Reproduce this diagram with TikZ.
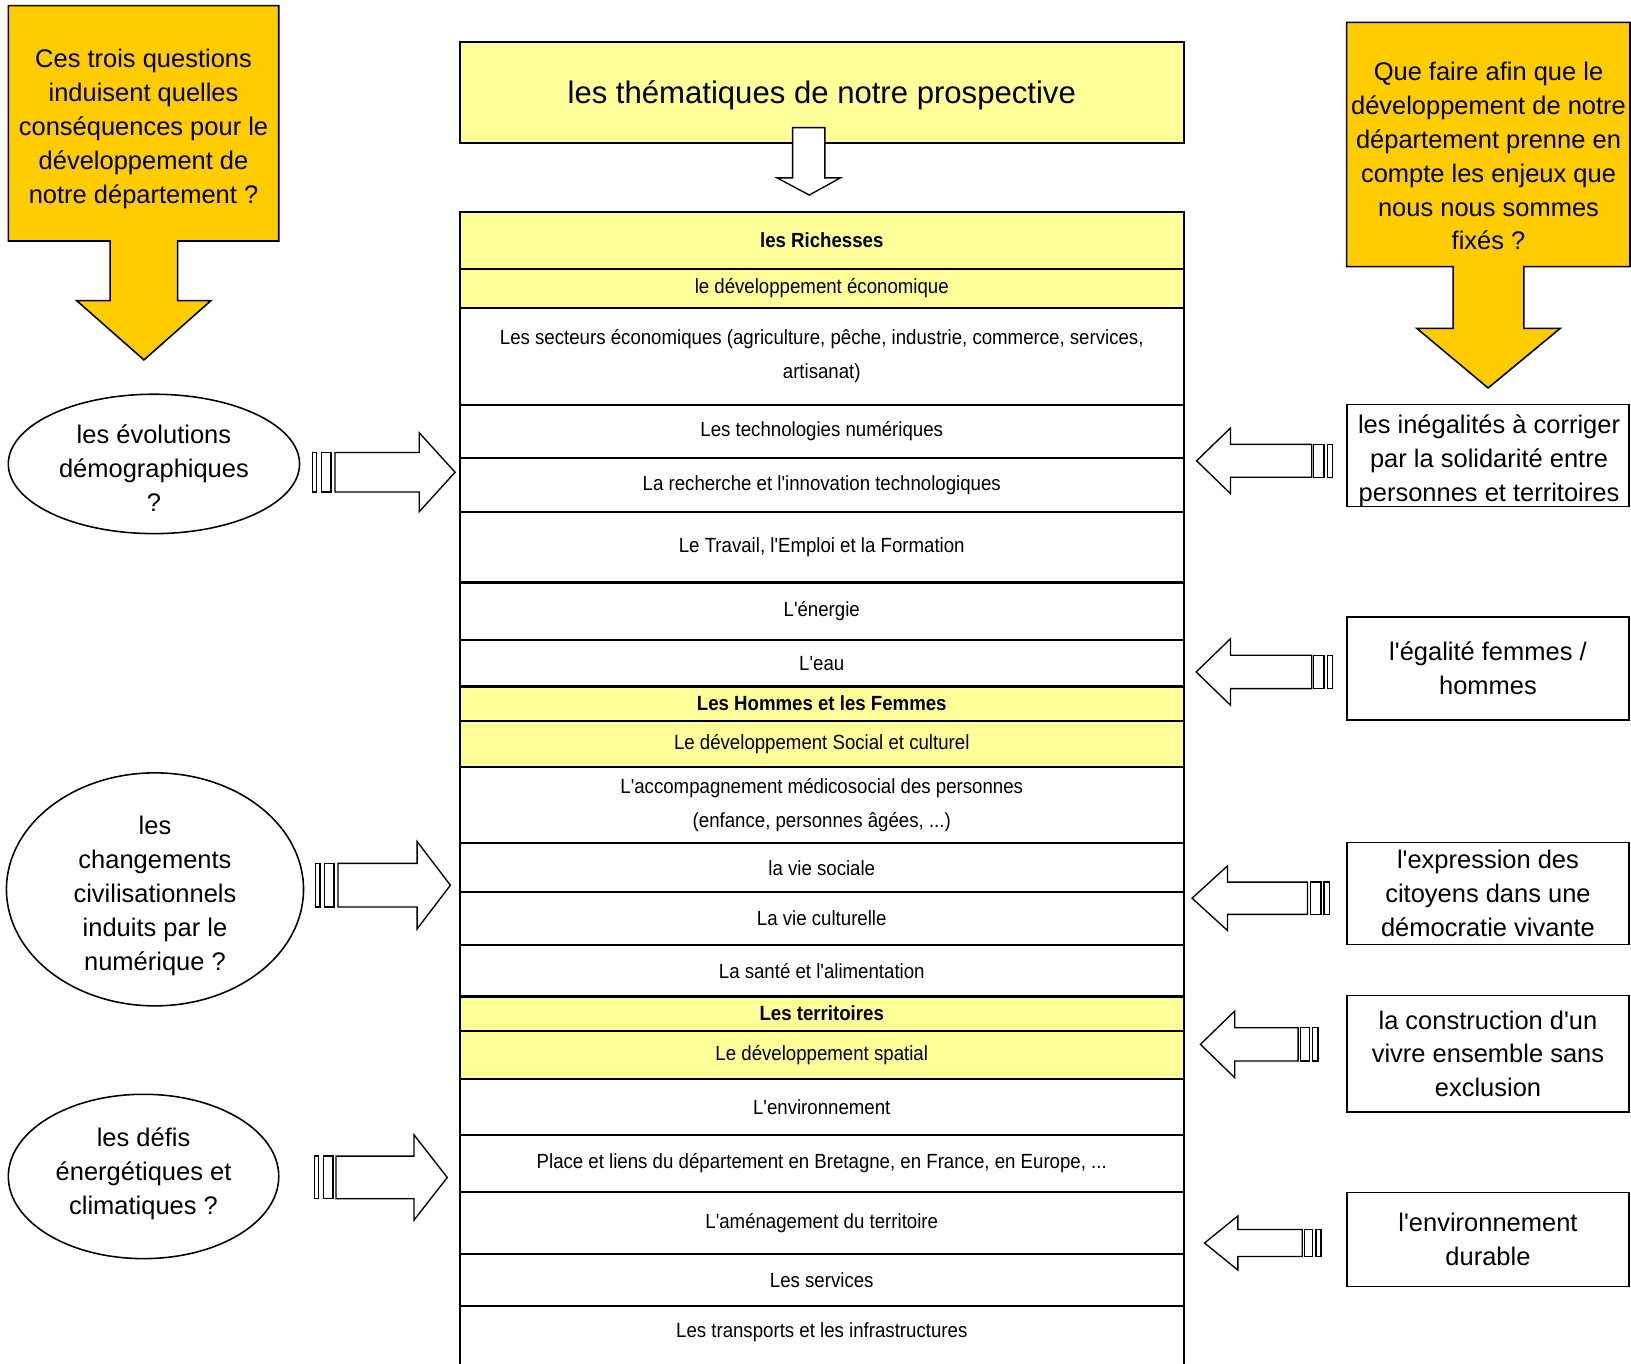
\documentclass[tikz,border=0pt]{standalone}
\usepackage{fontspec}
\setmainfont{Liberation Sans}[Ligatures=TeXOff]
\newfontfamily\narrowfont[FakeStretch=0.91,Ligatures=TeXOff]{Liberation Sans}
\usetikzlibrary{shapes.geometric}
\definecolor{callout}{HTML}{FFCC00}
\definecolor{paleyellow}{HTML}{FFFF99}
\tikzset{
  row/.style={draw, line width=2pt, minimum width=696pt, inner sep=0pt, outer sep=0pt, align=center,
    font=\narrowfont\fontsize{19.7}{33}\selectfont},
  yrow/.style={row, fill=paleyellow},
  wrow/.style={row, fill=white},
  sidebox/.style={draw, line width=1.5pt, minimum width=271pt, inner sep=0pt, align=center,
    font=\fontsize{24.5}{32.5}\selectfont},
  ell/.style={ellipse, draw, line width=1.5pt, inner sep=0pt},
  plaintext/.style={align=center, inner sep=0pt, font=\fontsize{24.5}{32.6}\selectfont},
  calloutshape/.style={draw, fill=callout, line width=1.5pt, line join=miter},
  blk/.style={draw, fill=white, line width=1.3pt, line join=miter},
}
\newcommand{\trow}[5]{%
  \node[#4, minimum height={#3-#2}] (#1) at (790,{(#2+#3)/2}) {#5};}
\newcommand{\blockarrow}[9]{%
  \draw[blk] (#1,{#8-#9}) rectangle (#2,{#8+#9});
  \draw[blk] (#3,{#8-#9}) rectangle (#4,{#8+#9});
  \draw[blk] (#5,{#8-#9}) -- (#6,{#8-#9}) -- (#6,{#8-2*#9}) -- (#7,#8) -- (#6,{#8+2*#9}) -- (#6,{#8+#9}) -- (#5,{#8+#9}) -- cycle;}
\begin{document}
\begin{tikzpicture}[x=1pt,y=-1pt]
\useasboundingbox[fill=white] (0,0) rectangle (1568,1311);

% left callout
\draw[calloutshape] (8,5.4) -- (268,5.4) -- (268,231.7) -- (170.8,231.7) -- (170.8,289) -- (202.8,289)
  -- (138.4,346) -- (73.7,289) -- (105.8,289) -- (105.8,231.7) -- (8,231.7) -- cycle;
\node[plaintext] (q1) at (138,124) {Ces trois questions\\induisent quelles\\conséquences pour le\\développement de\\notre département ?};

% right callout
\draw[calloutshape] (1294.6,21.5) -- (1567,21.5) -- (1567,256.4) -- (1465,256.4) -- (1465,315.6) -- (1500,315.6)
  -- (1430.6,373) -- (1362,315.6) -- (1397,315.6) -- (1397,256.4) -- (1294.6,256.4) -- cycle;
\node[plaintext] (q2) at (1431,150) {Que faire afin que le\\développement de notre\\département prenne en\\compte les enjeux que\\nous nous sommes\\fixés ?};

% title
\node[draw, fill=paleyellow, line width=2pt, minimum width=696pt, minimum height=97.6pt, inner sep=0pt,
  text depth=0pt, font=\fontsize{29.9}{36}\selectfont] (title) at (790,88.8) {les thématiques de notre prospective};
\draw[blk] (762,122.7) -- (793,122.7) -- (793,171) -- (808,171) -- (778,187.5) -- (747,171) -- (762,171) -- cycle;

% table
\trow{r1}{203.5}{258.6}{yrow}{\bfseries les Richesses}
\trow{r2}{258.6}{296}{yrow}{le développement économique}
\trow{r3}{296}{389}{wrow}{Les secteurs économiques (agriculture, pêche, industrie, commerce, services,\\artisanat)}
\trow{r4}{389}{440}{wrow}{Les technologies numériques}
\trow{r5}{440}{492}{wrow}{La recherche et l'innovation technologiques}
\trow{r6}{492}{560}{wrow}{Le Travail, l'Emploi et la Formation}
\trow{r7}{560}{615}{wrow}{L'énergie}
\trow{r8}{615}{660}{wrow}{L'eau}
\trow{r9}{660}{692.8}{yrow}{\bfseries Les Hommes et les Femmes}
\trow{r10}{692.8}{737.7}{yrow}{Le développement Social et culturel}
\trow{r11}{737.7}{810.7}{wrow}{L'accompagnement médicosocial des personnes\\(enfance, personnes âgées, ...)}
\trow{r12}{810.7}{857.8}{wrow}{la vie sociale}
\trow{r13}{857.8}{908.5}{wrow}{La vie culturelle}
\trow{r14}{908.5}{958}{wrow}{La santé et l'alimentation}
\trow{r15}{958}{990.8}{yrow}{\bfseries Les territoires}
\trow{r16}{990.8}{1037.3}{yrow}{Le développement spatial}
\trow{r17}{1037.3}{1091}{wrow}{L'environnement}
\trow{r18}{1091}{1146.2}{wrow}{Place et liens du département en Bretagne, en France, en Europe, ...}
\trow{r19}{1146.2}{1205.6}{wrow}{L'aménagement du territoire}
\trow{r20}{1205.6}{1255.5}{wrow}{Les services}
\node[row, draw=none, minimum height=52pt] (r21) at (790,1281) {Les transports et les infrastructures};
\coordinate (bl) at (442,1311);
\coordinate (br) at (1138,1311);
\draw[line width=2pt] (r20.south west) -- (bl);
\draw[line width=2pt] (r20.south east) -- (br);

% left ellipses
\node[ell, minimum width=280pt, minimum height=134pt] (e1) at (148,446) {};
\node[plaintext] (e1t) at (148,450) {les évolutions\\démographiques\\?};
\node[ell, minimum width=285.6pt, minimum height=224pt] (e2) at (149,855) {};
\node[plaintext] (e2t) at (149,861) {les\\changements\\civilisationnels\\induits par le\\numérique ?};
\node[ell, minimum width=260pt, minimum height=158pt] (e3) at (138,1131) {};
\node[plaintext] (e3t) at (138,1128.5) {les défis\\énergétiques et\\climatiques ?};

% right boxes
\node[sidebox, minimum height=98pt] (b1) at (1430.5,438) {};
\node[plaintext] (b1t) at (1431.5,443) {les inégalités à corriger\\par la solidarité entre\\personnes et territoires};
\node[sidebox, minimum height=99pt] (b2) at (1430.5,642.5) {l'égalité femmes /\\hommes};
\node[sidebox, minimum height=98pt] (b3) at (1430.5,859) {l'expression des\\citoyens dans une\\démocratie vivante};
\node[sidebox, minimum height=112pt] (b4) at (1430.5,1013) {la construction d'un\\vivre ensemble sans\\exclusion};
\node[sidebox, minimum height=90.4pt] (b5) at (1430.5,1191.8) {l'environnement\\durable};

% block arrows, left side (pointing right)
\blockarrow{300.6}{304.4}{309}{318.2}{322}{403}{437.5}{454}{19}
\blockarrow{303.5}{307.5}{312}{321}{325}{401}{433}{851}{21}
\blockarrow{302.5}{306.5}{311}{320}{323}{398}{430}{1132}{20.5}
% block arrows, right side (pointing left)
\blockarrow{1281}{1276}{1273}{1263}{1261}{1183}{1150.4}{443}{15.8}
\blockarrow{1281}{1276}{1273}{1263}{1261}{1183}{1150}{646}{16}
\blockarrow{1278}{1273}{1270}{1260}{1257}{1180}{1146}{863.5}{15.5}
\blockarrow{1267}{1262}{1259}{1250}{1248}{1187}{1154}{1004}{16}
\blockarrow{1270}{1265}{1262}{1254}{1252}{1190}{1158}{1195}{13}
\end{tikzpicture}
\end{document}
